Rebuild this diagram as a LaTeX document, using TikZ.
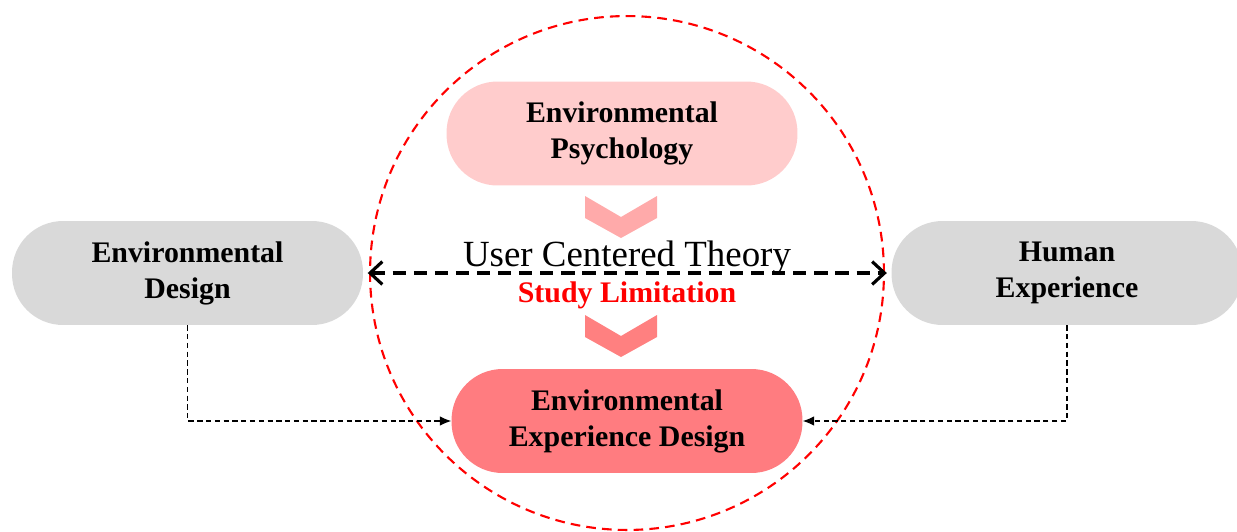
\documentclass[tikz,border=0pt]{standalone}
\usepackage{fontspec}
\setmainfont{Liberation Serif}
\usetikzlibrary{arrows.meta,calc}
\definecolor{psyfill}{RGB}{255,204,204}
\definecolor{greyfill}{RGB}{217,217,217}
\definecolor{eedfill}{RGB}{255,124,128}
\definecolor{chevlight}{RGB}{255,170,170}
\definecolor{chevdark}{RGB}{255,128,128}
\definecolor{limred}{RGB}{255,0,0}

\begin{document}
\begin{tikzpicture}[x=0.02cm,y=-0.02cm,>={Latex[length=6.5pt,width=5.5pt]},
    pill/.style={rounded corners=1.02cm,minimum width=7.02cm,minimum height=2.08cm,inner sep=0pt,
      align=center,font=\fontsize{17}{20.5}\selectfont\bfseries,execute at begin node=\rule{0pt}{17pt}},
    linkline/.style={densely dashed,line width=0.6pt,->}]
      \useasboundingbox (0,0) rectangle (1237,531);
      \draw[limred,line width=1.2pt,dash pattern=on 5.5pt off 3.5pt] (627,273) circle [radius=5.14cm];
      \node[pill,fill=psyfill] (psy) at (622,133.5) {Environmental\\Psychology};
      \node[pill,fill=greyfill] (envd) at (187.5,273) {Environmental\\Design};
      \node[pill,fill=greyfill] (humx) at (1067,273) {Human\\Experience};
      \node[pill,fill=eedfill] (eed) at (627,421) {Environmental\\Experience Design};
      \foreach \yc / \col in {196/chevlight,315/chevdark} {
        \fill[\col] (585,\yc) -- (621,\yc+21) -- (657,\yc) -- (657,\yc+22) -- (621,\yc+42) -- (585,\yc+22) -- cycle;
      }
      \node (theory) at (627,258) {\fontsize{21}{24}\selectfont User Centered Theory};
      \node[text=limred] (limit) at (627,295) {\fontsize{17}{20}\selectfont\bfseries Study Limitation};
      \draw[{Straight Barb[length=7pt,width=13pt,line width=1.8pt]}-{Straight Barb[length=7pt,width=13pt,line width=1.8pt]},
        line width=2pt,dash pattern=on 7.5pt off 4.5pt,shorten <=2.5pt,shorten >=2.5pt] (envd.east) -- (humx.west);
      \draw[linkline] (envd.south) |- (eed.west);
      \draw[linkline] (humx.south) |- (eed.east);
\end{tikzpicture}
\end{document}
